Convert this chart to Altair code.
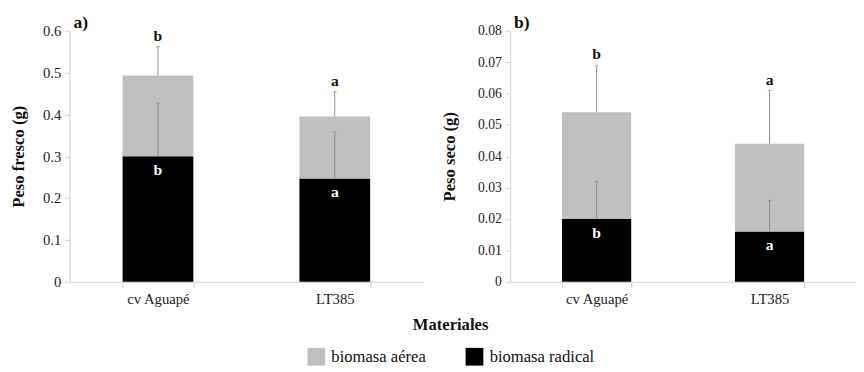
import altair as alt
import pandas as pd

materials = ["cv Aguapé", "LT385"]
series = ["biomasa aérea", "biomasa radical"]

# Panel a) Peso fresco
fresh_radical = [0.300, 0.247]
fresh_aerea = [0.193, 0.148]
fresh_radical_err = [0.127, 0.111]
fresh_total_err = [0.069, 0.059]
fresh_letters_total = ["b", "a"]
fresh_letters_radical = ["b", "a"]
fresh_ticks = [0, 0.1, 0.2, 0.3, 0.4, 0.5, 0.6]

# Panel b) Peso seco
dry_radical = [0.020, 0.016]
dry_aerea = [0.034, 0.028]
dry_radical_err = [0.012, 0.010]
dry_total_err = [0.015, 0.017]
dry_letters_total = ["b", "a"]
dry_letters_radical = ["b", "a"]
dry_ticks = [0, 0.01, 0.02, 0.03, 0.04, 0.05, 0.06, 0.07, 0.08]

GRAY = "#bfbfbf"
BLACK = "#000000"
AXIS = "#d0d0d0"
ERR = "#8c8c8c"
FONT = "Liberation Serif"


def panel(radical, aerea, rerr, terr, lt, lr, ytitle, ticks, label, width, label_size, tpad):
    total = [r + a for r, a in zip(radical, aerea)]
    bars = pd.DataFrame({
        "material": materials * 2,
        "serie": [series[1]] * 2 + [series[0]] * 2,
        "y0": [0.0, 0.0] + radical,
        "y1": radical + total,
    })
    err_top_r = [r + e for r, e in zip(radical, rerr)]
    err_top_t = [t + e for t, e in zip(total, terr)]
    errs = pd.DataFrame({
        "material": materials * 2,
        "base": radical + total,
        "top": err_top_r + err_top_t,
    })
    top_letters = pd.DataFrame({"material": materials, "y": err_top_t, "letter": lt})
    rad_letters = pd.DataFrame({"material": materials, "y": radical, "letter": lr})

    xscale = alt.Scale(paddingInner=0.6, paddingOuter=0.3)
    xaxis = alt.Axis(labelAngle=0, tickBand="extent", tickSize=6, labelPadding=4,
                     labelFont=FONT, labelFontSize=15, labelColor="#222",
                     domainColor=AXIS, tickColor=AXIS, grid=False)
    yscale = alt.Scale(domain=[ticks[0], ticks[-1]], nice=False)
    yaxis = alt.Axis(values=ticks, format="~g", labelFontSize=label_size, labelFont=FONT,
                     labelColor="#222", labelOverlap=False, labelPadding=4,
                     titlePadding=tpad, tickSize=5, titleFont=FONT, titleFontSize=17,
                     titleFontWeight="bold", titleColor="#111", domainColor=AXIS,
                     tickColor=AXIS, grid=False)

    def X():
        return alt.X("material:N", sort=materials, title=None, scale=xscale, axis=xaxis)

    def Y(field):
        return alt.Y(field, scale=yscale, axis=yaxis, title=ytitle)

    b = alt.Chart(bars).mark_bar().encode(
        x=X(),
        y=Y("y0:Q"),
        y2="y1:Q",
        color=alt.Color("serie:N", scale=alt.Scale(domain=series, range=[GRAY, BLACK]),
                        legend=alt.Legend(
                            title="Materiales", orient="none", legendX=243, legendY=293,
                            direction="horizontal", titleAnchor="middle", titleFont=FONT,
                            titleFontSize=17, titleFontWeight="bold", titleColor="#111",
                            titlePadding=14, labelFont=FONT, labelFontSize=17,
                            labelColor="#111", symbolType="square", symbolSize=330,
                            symbolStrokeWidth=0, symbolOpacity=1, columnPadding=40,
                            labelOffset=6)),
    )
    rules = alt.Chart(errs).mark_rule(color=ERR, strokeWidth=1).encode(
        x=X(), y=Y("base:Q"), y2="top:Q",
    )
    caps = alt.Chart(errs).mark_tick(color=ERR, thickness=1, size=4).encode(
        x=X(), y=Y("top:Q"),
    )
    t1 = alt.Chart(top_letters).mark_text(
        font=FONT, fontSize=16, fontWeight="bold", color="#111", baseline="bottom", dy=-3
    ).encode(x=X(), y=Y("y:Q"), text="letter:N")
    t2 = alt.Chart(rad_letters).mark_text(
        font=FONT, fontSize=16, fontWeight="bold", color="white", baseline="top", dy=6
    ).encode(x=X(), y=Y("y:Q"), text="letter:N")

    return alt.layer(b, rules, caps, t1, t2).properties(
        width=width, height=257,
        title=alt.TitleParams(label, anchor="start", font=FONT, fontSize=18,
                              fontWeight="bold", color="#111", dx=4, offset=-8,
                              frame="group"),
    )


pa = panel(fresh_radical, fresh_aerea, fresh_radical_err, fresh_total_err,
           fresh_letters_total, fresh_letters_radical, "Peso fresco (g)", fresh_ticks, "a)",
           362, 15, 15)
pb = panel(dry_radical, dry_aerea, dry_radical_err, dry_total_err,
           dry_letters_total, dry_letters_radical, "Peso seco (g)", dry_ticks, "b)",
           354, 14, 19)

chart = alt.hconcat(pa, pb, spacing=18).resolve_scale(color="shared").properties(
    padding={"left": 2, "top": 2, "right": 0, "bottom": 0}
).configure(background="white").configure_view(stroke=None).configure_axis(
    labelFont=FONT, labelFontSize=15, labelColor="#222", titleFont=FONT, titleFontSize=17,
    titleFontWeight="bold", titleColor="#111", domainColor=AXIS, tickColor=AXIS,
    grid=False, labelPadding=4,
)

chart.save("out.html", embed_options={"renderer": "svg", "actions": False})
